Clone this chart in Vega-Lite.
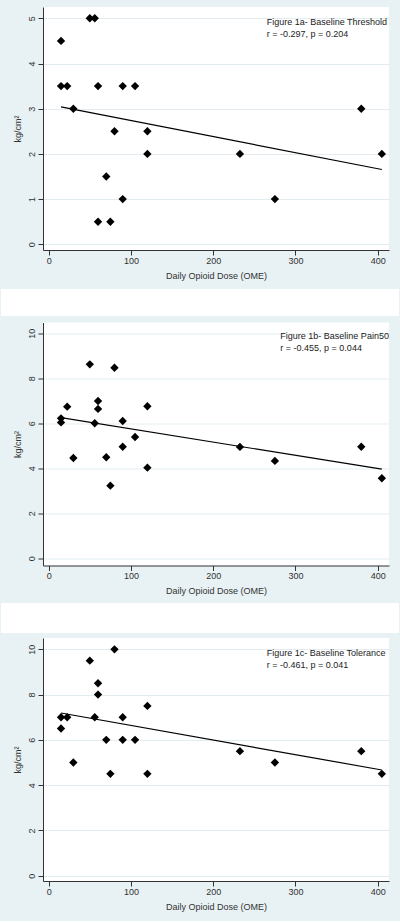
{
  "$schema": "https://vega.github.io/schema/vega-lite/v6.json",
  "padding": {"left": 0, "top": 7, "right": 0, "bottom": 0},
  "background": "#e8f1f4",
  "bounds": "flush",
  "spacing": 72.5,
  "config": {
    "font": "Liberation Sans",
    "view": {"fill": "white", "stroke": null},
    "axis": {
      "labelFont": "Liberation Sans", "labelFontSize": 9, "labelColor": "#333",
      "titleFont": "Liberation Sans", "titleFontSize": 9, "titleFontWeight": "normal", "titleColor": "#333",
      "domainColor": "#333", "domainWidth": 1, "tickColor": "#333", "tickSize": 5, "tickWidth": 1
    },
    "axisX": {"grid": false, "labelPadding": 1, "titlePadding": 6, "zindex": 1},
    "axisY": {"grid": true, "gridColor": "#e3edf1", "gridWidth": 1, "labelAngle": -90, "labelAlign": "center", "labelBaseline": "alphabetic", "labelPadding": 3.5, "titlePadding": 5}
  },
  "datasets": {
    "pain": [
      {"dose": 15, "threshold": 4.5, "pain50": 6.22, "tolerance": 7},
      {"dose": 15, "threshold": 3.5, "pain50": 6.04, "tolerance": 6.5},
      {"dose": 22.5, "threshold": 3.5, "pain50": 6.74, "tolerance": 7},
      {"dose": 30, "threshold": 3, "pain50": 4.46, "tolerance": 5},
      {"dose": 50, "threshold": 5, "pain50": 8.62, "tolerance": 9.5},
      {"dose": 56, "threshold": 5, "pain50": 6.0, "tolerance": 7},
      {"dose": 60, "threshold": 3.5, "pain50": 6.99, "tolerance": 8.5},
      {"dose": 60, "threshold": 0.5, "pain50": 6.64, "tolerance": 8},
      {"dose": 70, "threshold": 1.5, "pain50": 4.49, "tolerance": 6},
      {"dose": 75, "threshold": 0.5, "pain50": 3.23, "tolerance": 4.5},
      {"dose": 80, "threshold": 2.5, "pain50": 8.47, "tolerance": 10},
      {"dose": 90, "threshold": 3.5, "pain50": 6.10, "tolerance": 7},
      {"dose": 90, "threshold": 1, "pain50": 4.96, "tolerance": 6},
      {"dose": 105, "threshold": 3.5, "pain50": 5.39, "tolerance": 6},
      {"dose": 120, "threshold": 2.5, "pain50": 6.76, "tolerance": 7.5},
      {"dose": 120, "threshold": 2, "pain50": 4.03, "tolerance": 4.5},
      {"dose": 232.5, "threshold": 2, "pain50": 4.95, "tolerance": 5.5},
      {"dose": 275, "threshold": 1, "pain50": 4.33, "tolerance": 5},
      {"dose": 380, "threshold": 3, "pain50": 4.96, "tolerance": 5.5},
      {"dose": 405, "threshold": 2, "pain50": 3.56, "tolerance": 4.5}
    ]
  },
  "vconcat": [
    {
      "width": 346, "height": 243,
      "layer": [
        {
          "data": {"name": "pain"},
          "mark": {"type": "point", "shape": "diamond", "filled": true, "color": "black", "size": 70, "opacity": 1},
          "encoding": {
            "x": {"field": "dose", "type": "quantitative", "title": "Daily Opioid Dose (OME)", "scale": {"domain": [-6.9, 413.7], "nice": false, "zero": false}, "axis": {"values": [0, 100, 200, 300, 400]}},
            "y": {"field": "threshold", "type": "quantitative", "title": "kg/cm²", "scale": {"domain": [-0.126, 5.25], "nice": false, "zero": false}, "axis": {"values": [0, 1, 2, 3, 4, 5]}}
          }
        },
        {
          "data": {"name": "pain"},
          "transform": [{"regression": "threshold", "on": "dose"}],
          "mark": {"type": "line", "color": "black", "strokeWidth": 1.2},
          "encoding": {
            "x": {"field": "dose", "type": "quantitative", "title": "Daily Opioid Dose (OME)"},
            "y": {"field": "threshold", "type": "quantitative", "title": "kg/cm²"}
          }
        },
        {
          "data": {"values": [{}]},
          "mark": {"type": "text", "text": ["Figure 1a- Baseline Threshold", "r = -0.297, p = 0.204"], "align": "left", "baseline": "middle", "lineHeight": 12, "fontSize": 9, "color": "#222"},
          "encoding": {"x": {"datum": 265, "type": "quantitative"}, "y": {"datum": 4.925, "type": "quantitative"}}
        },
        {
          "data": {"values": [{}]},
          "mark": {"type": "rect", "fill": "white"},
          "encoding": {
            "x": {"datum": -57.96, "type": "quantitative"}, "x2": {"datum": 425.86},
            "y": {"datum": -0.989, "type": "quantitative"}, "y2": {"datum": -1.586}
          }
        }
      ]
    },
    {
      "width": 346, "height": 243,
      "layer": [
        {
          "data": {"name": "pain"},
          "mark": {"type": "point", "shape": "diamond", "filled": true, "color": "black", "size": 70, "opacity": 1},
          "encoding": {
            "x": {"field": "dose", "type": "quantitative", "title": "Daily Opioid Dose (OME)", "scale": {"domain": [-6.9, 413.7], "nice": false, "zero": false}, "axis": {"values": [0, 100, 200, 300, 400]}},
            "y": {"field": "pain50", "type": "quantitative", "title": "kg/cm²", "scale": {"domain": [-0.32, 10.48], "nice": false, "zero": false}, "axis": {"values": [0, 2, 4, 6, 8, 10]}}
          }
        },
        {
          "data": {"name": "pain"},
          "transform": [{"regression": "pain50", "on": "dose"}],
          "mark": {"type": "line", "color": "black", "strokeWidth": 1.2},
          "encoding": {
            "x": {"field": "dose", "type": "quantitative", "title": "Daily Opioid Dose (OME)"},
            "y": {"field": "pain50", "type": "quantitative", "title": "kg/cm²"}
          }
        },
        {
          "data": {"values": [{}]},
          "mark": {"type": "text", "text": ["Figure 1b- Baseline Pain50", "r = -0.455, p = 0.044"], "align": "left", "baseline": "middle", "lineHeight": 12, "fontSize": 9, "color": "#222"},
          "encoding": {"x": {"datum": 281.6, "type": "quantitative"}, "y": {"datum": 9.87, "type": "quantitative"}}
        },
        {
          "data": {"values": [{}]},
          "mark": {"type": "rect", "fill": "white"},
          "encoding": {
            "x": {"datum": -57.96, "type": "quantitative"}, "x2": {"datum": 425.86},
            "y": {"datum": -1.987, "type": "quantitative"}, "y2": {"datum": -3.32}
          }
        }
      ]
    },
    {
      "width": 346, "height": 243,
      "layer": [
        {
          "data": {"name": "pain"},
          "mark": {"type": "point", "shape": "diamond", "filled": true, "color": "black", "size": 70, "opacity": 1},
          "encoding": {
            "x": {"field": "dose", "type": "quantitative", "title": "Daily Opioid Dose (OME)", "scale": {"domain": [-6.9, 413.7], "nice": false, "zero": false}, "axis": {"values": [0, 100, 200, 300, 400]}},
            "y": {"field": "tolerance", "type": "quantitative", "title": "kg/cm²", "scale": {"domain": [-0.234, 10.5], "nice": false, "zero": false}, "axis": {"values": [0, 2, 4, 6, 8, 10]}}
          }
        },
        {
          "data": {"name": "pain"},
          "transform": [{"regression": "tolerance", "on": "dose"}],
          "mark": {"type": "line", "color": "black", "strokeWidth": 1.2},
          "encoding": {
            "x": {"field": "dose", "type": "quantitative", "title": "Daily Opioid Dose (OME)"},
            "y": {"field": "tolerance", "type": "quantitative", "title": "kg/cm²"}
          }
        },
        {
          "data": {"values": [{}]},
          "mark": {"type": "text", "text": ["Figure 1c- Baseline Tolerance", "r = -0.461, p = 0.041"], "align": "left", "baseline": "middle", "lineHeight": 12, "fontSize": 9, "color": "#222"},
          "encoding": {"x": {"datum": 265, "type": "quantitative"}, "y": {"datum": 9.85, "type": "quantitative"}}
        },
        {
          "data": {"values": [{}]},
          "mark": {"type": "rect", "fill": "#e8f1f4"},
          "encoding": {
            "x": {"datum": -57.96, "type": "quantitative"}, "x2": {"datum": 425.86},
            "y": {"datum": -1.75, "type": "quantitative"}, "y2": {"datum": -1.958}
          }
        }
      ]
    }
  ]
}
